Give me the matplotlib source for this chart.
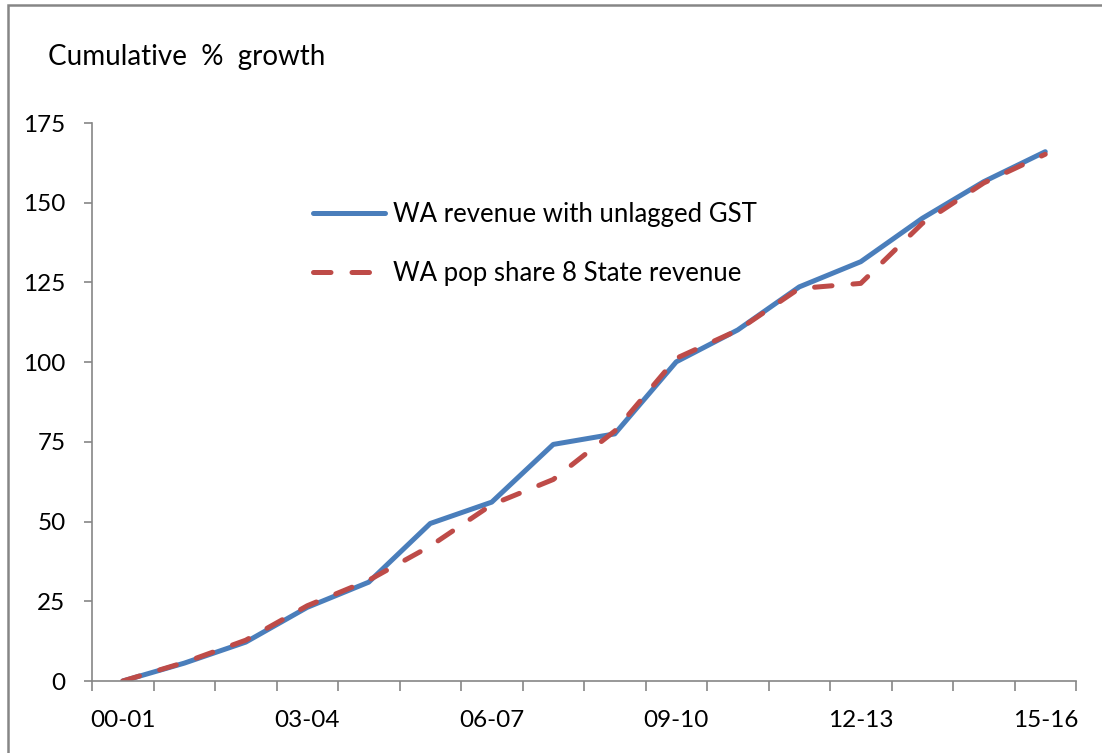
import matplotlib
matplotlib.use("Agg")
from matplotlib import pyplot as plt
from matplotlib.patches import Rectangle


years = ["00-01", "01-02", "02-03", "03-04", "04-05", "05-06", "06-07", "07-08",
         "08-09", "09-10", "10-11", "11-12", "12-13", "13-14", "14-15", "15-16"]
wa_revenue = [0, 5.6, 12.2, 23.1, 31.0, 49.4, 56.1, 74.2,
              77.5, 100.1, 110.1, 123.6, 131.5, 145.1, 156.6, 166.0]
wa_pop_share = [0, 5.8, 12.8, 23.6, 31.6, 42.3, 55.3, 63.2,
                78.4, 101.2, 110.0, 123.1, 124.7, 143.5, 156.2, 165.2]
tick_labels = ["00-01", "03-04", "06-07", "09-10", "12-13", "15-16"]

plt.rcParams["font.family"] = ["Lato", "DejaVu Sans"]
grey = "#868686"

fig = plt.figure(figsize=(11.02, 7.53), dpi=100)
ax = fig.add_axes([92 / 1102, 1 - 681 / 753, 984 / 1102, 558 / 753])

x = list(range(len(years)))
ax.plot(x, wa_revenue, color="#4A7EBB", lw=3.6, solid_capstyle="round",
        solid_joinstyle="round", label="WA revenue with unlagged GST")
ax.plot(x, wa_pop_share, color="#BE4B48", lw=3.6, dashes=(3.5, 4.2),
        dash_capstyle="round", label="WA pop share 8 State revenue")

ax.set_xlim(-0.5, len(years) - 0.5)
ax.set_ylim(0, 175)
ax.set_yticks(range(0, 176, 25))

# category boundary ticks, labels sit on every third category
ax.set_xticks([i - 0.5 for i in range(len(years) + 1)])
ax.set_xticklabels([])
ax.set_xticks([years.index(t) for t in tick_labels], minor=True)
ax.set_xticklabels(tick_labels, minor=True)
ax.tick_params(axis="x", which="major", length=7, width=1.2, color=grey)
ax.tick_params(axis="x", which="minor", length=0, pad=21, labelsize=17.5)
ax.tick_params(axis="y", length=6, width=1.2, color=grey, pad=13, labelsize=17.5)

for side in ["top", "right"]:
    ax.spines[side].set_visible(False)
for side in ["left", "bottom"]:
    ax.spines[side].set_color(grey)
    ax.spines[side].set_linewidth(1.2)

ax.legend(loc="upper left", bbox_to_anchor=(0.2246, 0.858), frameon=False,
          fontsize=18.5, handlelength=2.8, handletextpad=0.32, borderpad=0,
          borderaxespad=0, labelspacing=1.3)

fig.text(48 / 1102, 1 - 57 / 753, "Cumulative  %  growth", fontsize=20,
         va="center", ha="left")

fig.patches.append(Rectangle((7.5 / 1102, -0.1), 1.2, 1.1 - 5 / 753,
                             transform=fig.transFigure, fill=False,
                             edgecolor=grey, lw=1.8))

fig.savefig("out.png", dpi=100)
